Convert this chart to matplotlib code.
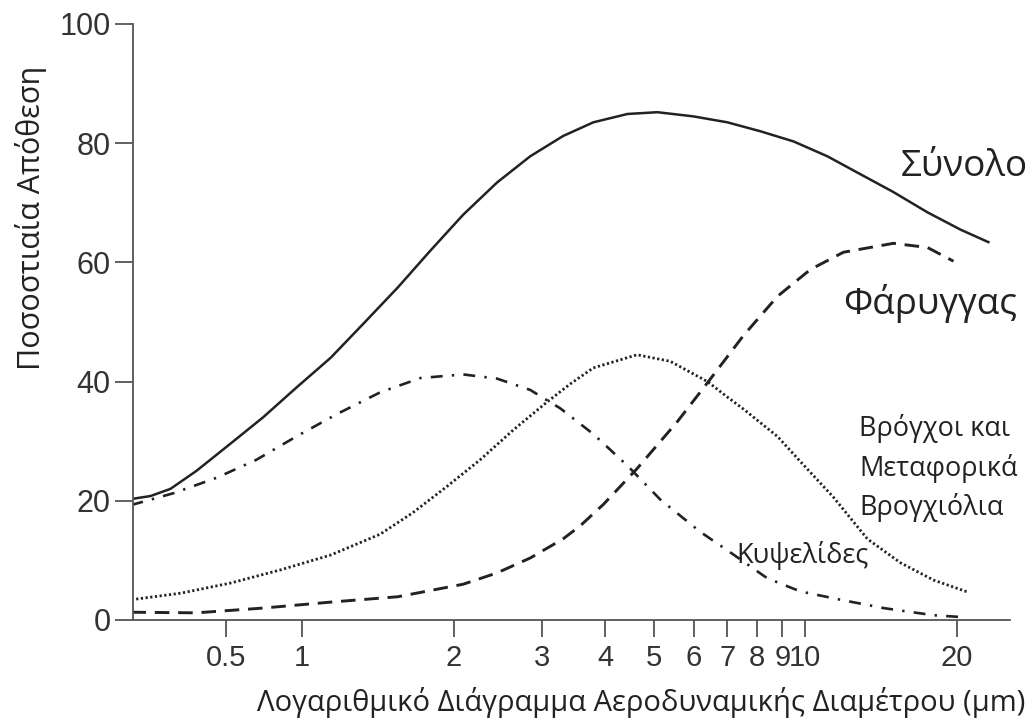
"""Ποσοστιαία απόθεση σωματιδίων στο αναπνευστικό ανά αεροδυναμική διάμετρο.

Τέσσερις καμπύλες (Σύνολο, Φάρυγγας, Βρόγχοι/Βρογχιόλια, Κυψελίδες) σε
λογαριθμικό άξονα x. Κάτω από 1 μm ο άξονας είναι συμπιεσμένος, όπως στο
πρωτότυπο σχήμα (το 0.5 βρίσκεται πιο κοντά στο 1 από ό,τι σε καθαρό log).
"""
import matplotlib

matplotlib.use("Agg")
import matplotlib.pyplot as plt
import numpy as np
from matplotlib.ticker import FixedLocator, FixedFormatter

# --- δεδομένα (διαβασμένα από την εικόνα) ---
total_x = [0.21, 0.25, 0.30, 0.38, 0.52, 0.70, 0.95, 1.14, 1.32, 1.55, 1.80, 2.09,
           2.44, 2.84, 3.30, 3.79, 4.43, 5.08, 5.99, 7.0, 8.14, 9.47, 11.06,
           12.86, 14.96, 17.48, 20.33, 23.1]
total_y = [20.3, 20.8, 22.0, 25.0, 29.6, 34.0, 39.0, 44.0, 49.6, 55.8, 62.0, 68.0,
           73.4, 77.8, 81.2, 83.5, 84.9, 85.2, 84.5, 83.5, 82.0, 80.3, 77.8,
           74.8, 71.8, 68.4, 65.5, 63.4]

pharynx_x = [0.21, 0.38, 0.70, 1.14, 1.55, 2.09, 2.44, 2.84, 3.30, 3.57, 3.97,
             4.63, 5.57, 6.39, 7.53, 8.80, 10.23, 11.90, 14.96, 17.48, 19.69]
pharynx_y = [1.3, 1.2, 2.0, 3.0, 3.9, 6.0, 7.9, 10.4, 13.6, 15.8, 19.4,
             25.4, 33.3, 39.8, 47.7, 54.3, 58.8, 61.7, 63.2, 62.5, 60.2]

bronchi_x = [0.21, 0.33, 0.52, 0.82, 1.14, 1.43, 1.66, 1.94, 2.26, 2.63, 3.07,
             3.41, 3.79, 4.63, 5.39, 6.39, 7.0, 7.53, 8.80, 9.77, 11.37, 13.28,
             15.45, 17.97, 20.99]
bronchi_y = [3.4, 4.5, 6.2, 8.4, 10.9, 14.4, 18.0, 22.4, 26.9, 31.9, 36.6,
             39.6, 42.3, 44.5, 43.4, 40.0, 37.4, 35.4, 30.8, 26.6, 20.6, 13.6,
             9.6, 6.7, 4.7]

alveolar_x = [0.21, 0.31, 0.46, 0.66, 0.95, 1.17, 1.43, 1.72, 2.09, 2.44, 2.84,
              3.26, 3.79, 4.43, 5.15, 6.18, 7.19, 8.40, 9.77, 11.74, 14.29,
              17.97, 20.33]
alveolar_y = [19.3, 21.3, 23.9, 26.9, 30.8, 34.5, 38.2, 40.6, 41.2, 40.5, 38.6,
              35.5, 31.2, 25.9, 20.2, 14.8, 11.0, 7.0, 4.8, 3.4, 2.0,
              0.8, 0.5]

x_ticks = [0.5, 1, 2, 3, 4, 5, 6, 7, 8, 9, 10, 20]
x_tick_labels = ["0.5", "1", "2", "3", "4", "5", "6", "7", "8", "9", "10", "20"]
y_ticks = [0, 20, 40, 60, 80, 100]

# συμπίεση της δεκάδας κάτω από 1 μm
K_LOW = 0.5
INK = "#222222"
AXIS = "#555555"
LABEL_FONT = ["Open Sans", "DejaVu Sans"]
TICK_FONT = ["Liberation Sans", "DejaVu Sans"]


def fwd(x):
    lx = np.log10(np.clip(np.asarray(x, float), 1e-9, None))
    return np.where(lx < 0, lx * K_LOW, lx)


def inv(y):
    y = np.asarray(y, float)
    return np.where(y < 0, 10 ** (y / K_LOW), 10 ** y)


fig = plt.figure(figsize=(10.36, 7.27), dpi=100)
ax = fig.add_axes([0.1284, 0.1472, 0.8465, 0.8198])

ax.plot(total_x, total_y, "-", color=INK, lw=1.8, solid_joinstyle="round")
ax.plot(pharynx_x, pharynx_y, color=INK, lw=2.1, linestyle=(0, (5.0, 3.0)))
ax.plot(bronchi_x, bronchi_y, color=INK, lw=2.0, linestyle=(0, (0.8, 0.9)))
ax.plot(alveolar_x, alveolar_y, color=INK, lw=1.9,
        linestyle=(0, (4.5, 3.5, 0.9, 3.5)))

ax.set_xscale("function", functions=(fwd, inv))
ax.set_xlim(0.213, 25.5)
ax.set_ylim(0, 100)
ax.xaxis.set_major_locator(FixedLocator(x_ticks))
ax.xaxis.set_major_formatter(FixedFormatter(x_tick_labels))
ax.xaxis.set_minor_locator(FixedLocator([]))
ax.set_yticks(y_ticks)

for side in ("top", "right"):
    ax.spines[side].set_visible(False)
for side in ("left", "bottom"):
    ax.spines[side].set_color(AXIS)
    ax.spines[side].set_linewidth(1.3)

ax.tick_params(axis="x", direction="out", length=12, width=1.3, color=AXIS,
               pad=5, labelsize=21, labelcolor="#333333")
ax.tick_params(axis="y", direction="out", length=13, width=1.3, color=AXIS,
               pad=3, labelsize=22, labelcolor="#333333")
for lab in ax.get_xticklabels() + ax.get_yticklabels():
    lab.set_fontfamily(TICK_FONT)

ax.set_ylabel("Ποσοστιαία Απόθεση", fontsize=22, family=LABEL_FONT, color=INK)
ax.yaxis.set_label_coords(-0.098, 0.675)
ax.set_xlabel("Λογαριθμικό Διάγραμμα Αεροδυναμικής Διαμέτρου (μm)", fontsize=21,
              family=LABEL_FONT, color=INK, ha="right")
ax.xaxis.set_label_coords(1.017, -0.112)

# ετικέτες καμπυλών
ax.text(15.5, 74.5, "Σύνολο", fontsize=26.5, family=LABEL_FONT, color=INK,
        ha="left", va="baseline", clip_on=False)
ax.text(11.9, 51.3, "Φάρυγγας", fontsize=26.5, family=LABEL_FONT, color=INK,
        ha="left", va="baseline", clip_on=False)
for i, line in enumerate(["Βρόγχοι και", "Μεταφορικά", "Βρογχιόλια"]):
    ax.text(12.8, 30.8 - i * 6.6, line, fontsize=19.5, family=LABEL_FONT,
            color=INK, ha="left", va="baseline", clip_on=False)
ax.text(7.3, 9.6, "Κυψελίδες", fontsize=19.5, family=LABEL_FONT, color=INK,
        ha="left", va="baseline", clip_on=False)

fig.savefig("out.png", dpi=100, facecolor="white")
